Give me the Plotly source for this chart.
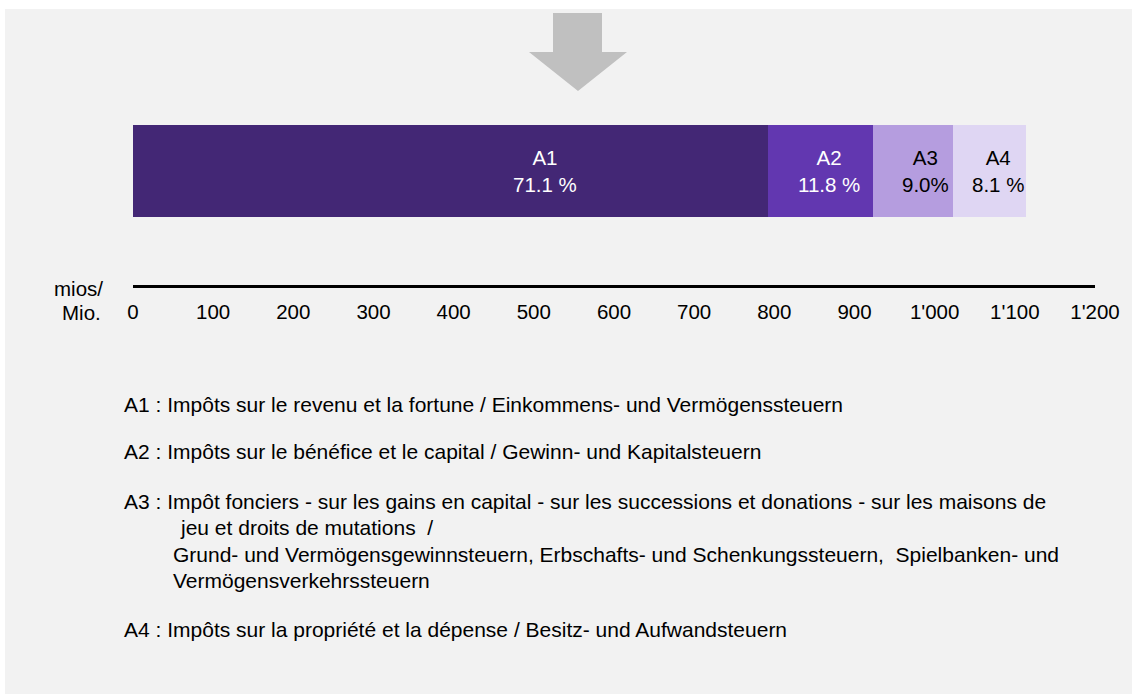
import plotly.graph_objects as go

# ---------------- data ----------------
categories = ["A1", "A2", "A3", "A4"]
values = [792, 131, 100, 91]            # mios / Mio.
pct_labels = ["71.1 %", "11.8 %", "9.0%", "8.1 %"]
tick_vals = [0, 100, 200, 300, 400, 500, 600, 700, 800, 900, 1000, 1100, 1200]
tick_text = ["0", "100", "200", "300", "400", "500", "600", "700", "800", "900",
             "1'000", "1'100", "1'200"]
unit_label = ["mios/", "Mio."]
legend_a1 = "A1 : Impôts sur le revenu et la fortune / Einkommens- und Vermögenssteuern"
legend_a2 = "A2 : Impôts sur le bénéfice et le capital / Gewinn- und Kapitalsteuern"
legend_a3 = [
    "A3 : Impôt fonciers - sur les gains en capital - sur les successions et donations - sur les maisons de",
    "jeu et droits de mutations  /",
    "Grund- und Vermögensgewinnsteuern, Erbschafts- und Schenkungssteuern,  Spielbanken- und",
    "Vermögensverkehrssteuern",
]
legend_a4 = "A4 : Impôts sur la propriété et la dépense / Besitz- und Aufwandsteuern"

# ---------------- style ----------------
colors = ["#432775", "#6237b0", "#b59ddf", "#dfd6f3"]
text_colors = ["white", "white", "black", "black"]
label_offsets = [118, 11, 15, 11]
FONT = "Liberation Sans, Arial, sans-serif"
W, H = 1132, 695
ML, MR, MT, MB = 133, 37, 100, 410
PW, PH = W - ML - MR, H - MT - MB


def xp(px):
    return (px - ML) / PW


def yp(py):
    return (H - MB - py) / PH


fig = go.Figure()
for cat, val, col in zip(categories, values, colors):
    fig.add_trace(go.Bar(
        y=[0], x=[val], orientation="h", name=cat, width=0.5,
        marker=dict(color=col, line=dict(width=0)), hoverinfo="x+name",
    ))

annotations = []
cum = 0
for cat, val, pct, tc, off in zip(categories, values, pct_labels, text_colors, label_offsets):
    annotations.append(dict(
        x=cum + val / 2 + off, y=0, xref="x", yref="y",
        text=f"{cat}<br>{pct}", showarrow=False,
        font=dict(family=FONT, size=20.5, color=tc), align="center",
    ))
    cum += val

annotations.append(dict(x=xp(105), y=yp(288), xref="paper", yref="paper",
                        text=unit_label[0], showarrow=False, xanchor="right",
                        yanchor="middle", font=dict(family=FONT, size=20.5, color="black")))
annotations.append(dict(x=xp(103), y=yp(312), xref="paper", yref="paper",
                        text=unit_label[1], showarrow=False, xanchor="right",
                        yanchor="middle", font=dict(family=FONT, size=20.5, color="black")))

legend_lines = [
    (legend_a1, 122, 404),
    (legend_a2, 122, 451),
    (legend_a3[0], 122, 501),
    (legend_a3[1], 178, 527),
    (legend_a3[2], 171, 554),
    (legend_a3[3], 171, 580),
    (legend_a4, 122, 629),
]
for txt, lx, ly in legend_lines:
    annotations.append(dict(x=xp(lx), y=yp(ly), xref="paper", yref="paper", text=txt,
                            showarrow=False, xanchor="left", yanchor="middle",
                            font=dict(family=FONT, size=21, color="black")))

arrow_pts = [(553, 13), (602, 13), (602, 52), (627, 52), (578, 91), (529, 52), (553, 52)]
path = "M " + " L ".join(f"{xp(a):.5f},{yp(b):.5f}" for a, b in arrow_pts) + " Z"

shapes = [
    # white frame strips
    dict(type="rect", xref="paper", yref="paper", x0=xp(0), x1=xp(W), y0=yp(0), y1=yp(9),
         fillcolor="white", line=dict(width=0), layer="below"),
    dict(type="rect", xref="paper", yref="paper", x0=xp(0), x1=xp(5), y0=yp(0), y1=yp(H),
         fillcolor="white", line=dict(width=0), layer="below"),
    dict(type="rect", xref="paper", yref="paper", x0=xp(0), x1=xp(W), y0=yp(694), y1=yp(H),
         fillcolor="white", line=dict(width=0), layer="below"),
    dict(type="path", xref="paper", yref="paper", path=path,
         fillcolor="#c0c0c0", line=dict(width=0)),
]

fig.update_layout(
    width=W, height=H,
    margin=dict(l=ML, r=MR, t=MT, b=MB, pad=0),
    paper_bgcolor="#f2f2f2", plot_bgcolor="rgba(0,0,0,0)",
    barmode="stack", showlegend=False,
    font=dict(family=FONT, size=20.5, color="black"),
    xaxis=dict(range=[0, 1200], tickvals=tick_vals, ticktext=tick_text,
               showgrid=False, zeroline=False, showline=True, linecolor="black",
               linewidth=2.5, ticks="outside", ticklen=7, tickcolor="rgba(0,0,0,0)",
               tickfont=dict(family=FONT, size=20.5, color="black"), fixedrange=True),
    yaxis=dict(range=[-0.6196, 0.3859], visible=False, fixedrange=True),
    annotations=annotations, shapes=shapes,
)

fig.write_html("out.html", config={"displayModeBar": False},
               post_script="document.body.style.margin='0';")
